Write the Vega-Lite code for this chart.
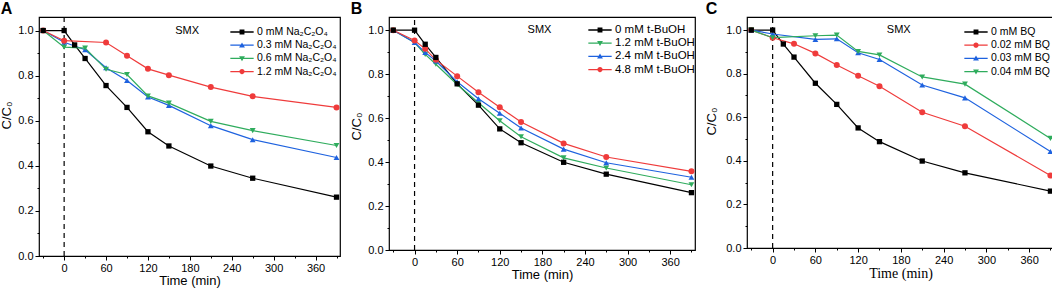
{
  "$schema": "https://vega.github.io/schema/vega-lite/v6.json",
  "background": "white",
  "padding": {"left": 0, "top": 0, "right": 0, "bottom": 0},
  "spacing": 7,
  "config": {
    "view": {"stroke": "black", "strokeWidth": 1.2},
    "axis": {"domain": false, "grid": false, "labelFont": "Liberation Sans", "labelFontSize": 11, "labelColor": "black", "tickColor": "black", "tickWidth": 1, "tickSize": 4, "labelPadding": 2, "titleFont": "Liberation Sans", "titleFontSize": 13, "titleFontWeight": "normal", "titleColor": "black", "labelOverlap": false},
    "title": {"anchor": "start", "frame": "bounds", "font": "Liberation Sans", "fontSize": 16, "fontWeight": "bold", "color": "black", "offset": -1},
    "legend": {"orient": "none", "labelFont": "Liberation Sans", "labelFontSize": 11, "labelColor": "black", "symbolStrokeWidth": 0, "labelOffset": 9, "rowPadding": 1.2, "padding": 0, "symbolSize": 136, "symbolOpacity": 1}
  },
  "datasets": {
    "A": [
      {"s": "0 mM Na₂C₂O₄", "t": -30, "v": 1.0}, {"s": "0 mM Na₂C₂O₄", "t": 0, "v": 1.0}, {"s": "0 mM Na₂C₂O₄", "t": 15, "v": 0.936}, {"s": "0 mM Na₂C₂O₄", "t": 30, "v": 0.876}, {"s": "0 mM Na₂C₂O₄", "t": 60, "v": 0.756}, {"s": "0 mM Na₂C₂O₄", "t": 90, "v": 0.659}, {"s": "0 mM Na₂C₂O₄", "t": 120, "v": 0.551}, {"s": "0 mM Na₂C₂O₄", "t": 150, "v": 0.488}, {"s": "0 mM Na₂C₂O₄", "t": 210, "v": 0.399}, {"s": "0 mM Na₂C₂O₄", "t": 270, "v": 0.345}, {"s": "0 mM Na₂C₂O₄", "t": 390, "v": 0.261},
      {"s": "0.3 mM Na₂C₂O₄", "t": -30, "v": 1.0}, {"s": "0.3 mM Na₂C₂O₄", "t": 0, "v": 0.948}, {"s": "0.3 mM Na₂C₂O₄", "t": 30, "v": 0.915}, {"s": "0.3 mM Na₂C₂O₄", "t": 60, "v": 0.835}, {"s": "0.3 mM Na₂C₂O₄", "t": 90, "v": 0.778}, {"s": "0.3 mM Na₂C₂O₄", "t": 120, "v": 0.705}, {"s": "0.3 mM Na₂C₂O₄", "t": 150, "v": 0.668}, {"s": "0.3 mM Na₂C₂O₄", "t": 210, "v": 0.578}, {"s": "0.3 mM Na₂C₂O₄", "t": 270, "v": 0.516}, {"s": "0.3 mM Na₂C₂O₄", "t": 390, "v": 0.437},
      {"s": "0.6 mM Na₂C₂O₄", "t": -30, "v": 1.0}, {"s": "0.6 mM Na₂C₂O₄", "t": 0, "v": 0.926}, {"s": "0.6 mM Na₂C₂O₄", "t": 30, "v": 0.922}, {"s": "0.6 mM Na₂C₂O₄", "t": 60, "v": 0.828}, {"s": "0.6 mM Na₂C₂O₄", "t": 90, "v": 0.805}, {"s": "0.6 mM Na₂C₂O₄", "t": 120, "v": 0.71}, {"s": "0.6 mM Na₂C₂O₄", "t": 150, "v": 0.678}, {"s": "0.6 mM Na₂C₂O₄", "t": 210, "v": 0.597}, {"s": "0.6 mM Na₂C₂O₄", "t": 270, "v": 0.556}, {"s": "0.6 mM Na₂C₂O₄", "t": 390, "v": 0.49},
      {"s": "1.2 mM Na₂C₂O₄", "t": -30, "v": 1.0}, {"s": "1.2 mM Na₂C₂O₄", "t": 0, "v": 0.955}, {"s": "1.2 mM Na₂C₂O₄", "t": 60, "v": 0.947}, {"s": "1.2 mM Na₂C₂O₄", "t": 90, "v": 0.888}, {"s": "1.2 mM Na₂C₂O₄", "t": 120, "v": 0.83}, {"s": "1.2 mM Na₂C₂O₄", "t": 150, "v": 0.802}, {"s": "1.2 mM Na₂C₂O₄", "t": 210, "v": 0.749}, {"s": "1.2 mM Na₂C₂O₄", "t": 270, "v": 0.708}, {"s": "1.2 mM Na₂C₂O₄", "t": 390, "v": 0.659}
    ],
    "B": [
      {"s": "0 mM t-BuOH", "t": -30, "v": 1.0}, {"s": "0 mM t-BuOH", "t": 0, "v": 1.0}, {"s": "0 mM t-BuOH", "t": 15, "v": 0.936}, {"s": "0 mM t-BuOH", "t": 30, "v": 0.876}, {"s": "0 mM t-BuOH", "t": 60, "v": 0.756}, {"s": "0 mM t-BuOH", "t": 90, "v": 0.659}, {"s": "0 mM t-BuOH", "t": 120, "v": 0.551}, {"s": "0 mM t-BuOH", "t": 150, "v": 0.488}, {"s": "0 mM t-BuOH", "t": 210, "v": 0.399}, {"s": "0 mM t-BuOH", "t": 270, "v": 0.345}, {"s": "0 mM t-BuOH", "t": 390, "v": 0.261},
      {"s": "1.2 mM t-BuOH", "t": -30, "v": 1.0}, {"s": "1.2 mM t-BuOH", "t": 0, "v": 0.944}, {"s": "1.2 mM t-BuOH", "t": 15, "v": 0.89}, {"s": "1.2 mM t-BuOH", "t": 30, "v": 0.845}, {"s": "1.2 mM t-BuOH", "t": 60, "v": 0.753}, {"s": "1.2 mM t-BuOH", "t": 90, "v": 0.67}, {"s": "1.2 mM t-BuOH", "t": 120, "v": 0.588}, {"s": "1.2 mM t-BuOH", "t": 150, "v": 0.515}, {"s": "1.2 mM t-BuOH", "t": 210, "v": 0.419}, {"s": "1.2 mM t-BuOH", "t": 270, "v": 0.373}, {"s": "1.2 mM t-BuOH", "t": 390, "v": 0.297},
      {"s": "2.4 mM t-BuOH", "t": -30, "v": 1.0}, {"s": "2.4 mM t-BuOH", "t": 0, "v": 0.944}, {"s": "2.4 mM t-BuOH", "t": 15, "v": 0.899}, {"s": "2.4 mM t-BuOH", "t": 30, "v": 0.86}, {"s": "2.4 mM t-BuOH", "t": 60, "v": 0.765}, {"s": "2.4 mM t-BuOH", "t": 90, "v": 0.688}, {"s": "2.4 mM t-BuOH", "t": 120, "v": 0.622}, {"s": "2.4 mM t-BuOH", "t": 150, "v": 0.555}, {"s": "2.4 mM t-BuOH", "t": 210, "v": 0.459}, {"s": "2.4 mM t-BuOH", "t": 270, "v": 0.397}, {"s": "2.4 mM t-BuOH", "t": 390, "v": 0.331},
      {"s": "4.8 mM t-BuOH", "t": -30, "v": 1.0}, {"s": "4.8 mM t-BuOH", "t": 0, "v": 0.953}, {"s": "4.8 mM t-BuOH", "t": 15, "v": 0.915}, {"s": "4.8 mM t-BuOH", "t": 30, "v": 0.865}, {"s": "4.8 mM t-BuOH", "t": 60, "v": 0.791}, {"s": "4.8 mM t-BuOH", "t": 90, "v": 0.718}, {"s": "4.8 mM t-BuOH", "t": 120, "v": 0.649}, {"s": "4.8 mM t-BuOH", "t": 150, "v": 0.582}, {"s": "4.8 mM t-BuOH", "t": 210, "v": 0.485}, {"s": "4.8 mM t-BuOH", "t": 270, "v": 0.423}, {"s": "4.8 mM t-BuOH", "t": 390, "v": 0.358}
    ],
    "C": [
      {"s": "0 mM BQ", "t": -30, "v": 1.0}, {"s": "0 mM BQ", "t": 0, "v": 1.0}, {"s": "0 mM BQ", "t": 15, "v": 0.936}, {"s": "0 mM BQ", "t": 30, "v": 0.876}, {"s": "0 mM BQ", "t": 60, "v": 0.756}, {"s": "0 mM BQ", "t": 90, "v": 0.659}, {"s": "0 mM BQ", "t": 120, "v": 0.551}, {"s": "0 mM BQ", "t": 150, "v": 0.488}, {"s": "0 mM BQ", "t": 210, "v": 0.399}, {"s": "0 mM BQ", "t": 270, "v": 0.345}, {"s": "0 mM BQ", "t": 390, "v": 0.261},
      {"s": "0.02 mM BQ", "t": -30, "v": 1.0}, {"s": "0.02 mM BQ", "t": 0, "v": 0.965}, {"s": "0.02 mM BQ", "t": 30, "v": 0.937}, {"s": "0.02 mM BQ", "t": 60, "v": 0.893}, {"s": "0.02 mM BQ", "t": 90, "v": 0.84}, {"s": "0.02 mM BQ", "t": 120, "v": 0.79}, {"s": "0.02 mM BQ", "t": 150, "v": 0.742}, {"s": "0.02 mM BQ", "t": 210, "v": 0.623}, {"s": "0.02 mM BQ", "t": 270, "v": 0.559}, {"s": "0.02 mM BQ", "t": 390, "v": 0.333},
      {"s": "0.03 mM BQ", "t": -30, "v": 1.0}, {"s": "0.03 mM BQ", "t": 0, "v": 0.982}, {"s": "0.03 mM BQ", "t": 60, "v": 0.957}, {"s": "0.03 mM BQ", "t": 90, "v": 0.96}, {"s": "0.03 mM BQ", "t": 120, "v": 0.896}, {"s": "0.03 mM BQ", "t": 150, "v": 0.865}, {"s": "0.03 mM BQ", "t": 210, "v": 0.748}, {"s": "0.03 mM BQ", "t": 270, "v": 0.689}, {"s": "0.03 mM BQ", "t": 390, "v": 0.443},
      {"s": "0.04 mM BQ", "t": -30, "v": 1.0}, {"s": "0.04 mM BQ", "t": 0, "v": 0.965}, {"s": "0.04 mM BQ", "t": 60, "v": 0.974}, {"s": "0.04 mM BQ", "t": 90, "v": 0.977}, {"s": "0.04 mM BQ", "t": 120, "v": 0.902}, {"s": "0.04 mM BQ", "t": 150, "v": 0.886}, {"s": "0.04 mM BQ", "t": 210, "v": 0.785}, {"s": "0.04 mM BQ", "t": 270, "v": 0.752}, {"s": "0.04 mM BQ", "t": 390, "v": 0.503}
    ]
  },
  "resolve": {"scale": {"x": "independent", "y": "independent", "color": "independent", "shape": "independent"}},
  "hconcat": [
    {
      "title": {"text": "A"},
      "width": 301, "height": 239,
      "data": {"name": "A"},
      "encoding": {
        "x": {"field": "t", "type": "quantitative", "scale": {"domain": [-36, 395], "nice": false, "zero": false},
              "axis": {"title": "Time (min)", "values": [-30, 0, 30, 60, 90, 120, 150, 180, 210, 240, 270, 300, 330, 360, 390], "labelExpr": "datum.value % 60 === 0 ? datum.label : ''", "tickDash": {"condition": {"test": "datum.value % 60 === 0", "value": [10, 0]}, "value": [2, 10]}, "titlePadding": 1}},
        "y": {"field": "v", "type": "quantitative", "scale": {"domain": [0, 1.06], "nice": false, "zero": false},
              "axis": {"title": "C/C₀", "titleY": 98, "values": [0, 0.1, 0.2, 0.3, 0.4, 0.5, 0.6, 0.7, 0.8, 0.9, 1.0], "labelExpr": "round(datum.value*10) % 2 === 0 ? format(datum.value, '.1f') : ''", "tickDash": {"condition": {"test": "round(datum.value*10) % 2 === 0", "value": [10, 0]}, "value": [2, 10]}, "titlePadding": 4}}
      },
      "layer": [
        {"data": {"values": [{"t": 0, "v": 0, "v2": 1.06}]}, "mark": {"type": "rule", "strokeDash": [5, 4], "strokeWidth": 1.2, "color": "black"},
         "encoding": {"y2": {"field": "v2"}}},
        {"mark": {"type": "line", "strokeWidth": 1.2},
         "encoding": {"color": {"field": "s", "type": "nominal", "scale": {"domain": ["0 mM Na₂C₂O₄", "0.3 mM Na₂C₂O₄", "0.6 mM Na₂C₂O₄", "1.2 mM Na₂C₂O₄"], "range": ["#000000", "#1e62df", "#2fac5d", "#ef3b3b"]}, "legend": {"title": null, "legendX": 197, "legendY": 9, "labelFontSize": 10.5}}}},
        {"transform": [{"filter": "datum.s === '0.3 mM Na₂C₂O₄'"}], "mark": {"type": "point", "shape": "triangle-up", "filled": true, "size": 34, "opacity": 1},
         "encoding": {"color": {"field": "s", "type": "nominal", "legend": {"title": null, "legendX": 197, "legendY": 9, "labelFontSize": 10.5}}}},
        {"transform": [{"filter": "datum.s === '0.6 mM Na₂C₂O₄'"}], "mark": {"type": "point", "shape": "triangle-down", "filled": true, "size": 34, "opacity": 1},
         "encoding": {"color": {"field": "s", "type": "nominal", "legend": {"title": null, "legendX": 197, "legendY": 9, "labelFontSize": 10.5}}}},
        {"transform": [{"filter": "datum.s === '1.2 mM Na₂C₂O₄'"}], "mark": {"type": "point", "shape": "circle", "filled": true, "size": 36, "opacity": 1},
         "encoding": {"color": {"field": "s", "type": "nominal", "legend": {"title": null, "legendX": 197, "legendY": 9, "labelFontSize": 10.5}}}},
        {"transform": [{"filter": "datum.s === '0 mM Na₂C₂O₄'"}], "mark": {"type": "point", "shape": "square", "filled": true, "size": 28, "opacity": 1},
         "encoding": {"color": {"field": "s", "type": "nominal", "legend": {"title": null, "legendX": 197, "legendY": 9, "labelFontSize": 10.5}}}},
        {"data": {"values": [{"label": "SMX", "t": 176, "v": 1.0}]}, "mark": {"type": "text", "font": "Liberation Sans", "fontSize": 11, "color": "black"},
         "encoding": {"text": {"field": "label"}}},
        {"mark": {"type": "point", "filled": true, "opacity": 0},
         "encoding": {
           "color": {"field": "s", "type": "nominal", "legend": {"title": null, "legendX": 197, "legendY": 9, "labelFontSize": 10.5}},
           "shape": {"field": "s", "type": "nominal", "scale": {"domain": ["0 mM Na₂C₂O₄", "0.3 mM Na₂C₂O₄", "0.6 mM Na₂C₂O₄", "1.2 mM Na₂C₂O₄"], "range": ["M-2,-0.11H2V0.11H-2Z M-0.42,-0.42H0.42V0.42H-0.42Z", "M-2,-0.11H2V0.11H-2Z M0,-0.48L0.5,0.38H-0.5Z", "M-2,-0.11H2V0.11H-2Z M0,0.48L-0.5,-0.38H0.5Z", "M-2,-0.11H2V0.11H-2Z M0.45,0A0.45,0.45 0 1,1 -0.45,0A0.45,0.45 0 1,1 0.45,0Z"]}, "legend": {"title": null, "legendX": 197, "legendY": 9, "labelFontSize": 10.5}}
         }}
      ]
    },
    {
      "title": {"text": "B"},
      "width": 306, "height": 233,
      "data": {"name": "B"},
      "encoding": {
        "x": {"field": "t", "type": "quantitative", "scale": {"domain": [-36, 395], "nice": false, "zero": false},
              "axis": {"title": "Time (min)", "values": [-30, 0, 30, 60, 90, 120, 150, 180, 210, 240, 270, 300, 330, 360, 390], "labelExpr": "datum.value % 60 === 0 ? datum.label : ''", "tickDash": {"condition": {"test": "datum.value % 60 === 0", "value": [10, 0]}, "value": [2, 10]}, "titlePadding": 1}},
        "y": {"field": "v", "type": "quantitative", "scale": {"domain": [0, 1.06], "nice": false, "zero": false},
              "axis": {"title": "C/C₀", "titleY": 109, "values": [0, 0.1, 0.2, 0.3, 0.4, 0.5, 0.6, 0.7, 0.8, 0.9, 1.0], "labelExpr": "round(datum.value*10) % 2 === 0 ? format(datum.value, '.1f') : ''", "tickDash": {"condition": {"test": "round(datum.value*10) % 2 === 0", "value": [10, 0]}, "value": [2, 10]}, "titlePadding": 4}}
      },
      "layer": [
        {"data": {"values": [{"t": 0, "v": 0, "v2": 1.06}]}, "mark": {"type": "rule", "strokeDash": [5, 4], "strokeWidth": 1.2, "color": "black"},
         "encoding": {"y2": {"field": "v2"}}},
        {"mark": {"type": "line", "strokeWidth": 1.2},
         "encoding": {"color": {"field": "s", "type": "nominal", "scale": {"domain": ["0 mM t-BuOH", "1.2 mM t-BuOH", "2.4 mM t-BuOH", "4.8 mM t-BuOH"], "range": ["#000000", "#2fac5d", "#1e62df", "#ef3b3b"]}, "legend": {"title": null, "legendX": 205, "legendY": 7, "labelFontSize": 11.5}}}},
        {"transform": [{"filter": "datum.s === '1.2 mM t-BuOH'"}], "mark": {"type": "point", "shape": "triangle-down", "filled": true, "size": 34, "opacity": 1},
         "encoding": {"color": {"field": "s", "type": "nominal", "legend": {"title": null, "legendX": 205, "legendY": 7, "labelFontSize": 11.5}}}},
        {"transform": [{"filter": "datum.s === '2.4 mM t-BuOH'"}], "mark": {"type": "point", "shape": "triangle-up", "filled": true, "size": 34, "opacity": 1},
         "encoding": {"color": {"field": "s", "type": "nominal", "legend": {"title": null, "legendX": 205, "legendY": 7, "labelFontSize": 11.5}}}},
        {"transform": [{"filter": "datum.s === '4.8 mM t-BuOH'"}], "mark": {"type": "point", "shape": "circle", "filled": true, "size": 36, "opacity": 1},
         "encoding": {"color": {"field": "s", "type": "nominal", "legend": {"title": null, "legendX": 205, "legendY": 7, "labelFontSize": 11.5}}}},
        {"transform": [{"filter": "datum.s === '0 mM t-BuOH'"}], "mark": {"type": "point", "shape": "square", "filled": true, "size": 28, "opacity": 1},
         "encoding": {"color": {"field": "s", "type": "nominal", "legend": {"title": null, "legendX": 205, "legendY": 7, "labelFontSize": 11.5}}}},
        {"data": {"values": [{"label": "SMX", "t": 176, "v": 1.0}]}, "mark": {"type": "text", "font": "Liberation Sans", "fontSize": 11, "color": "black"},
         "encoding": {"text": {"field": "label"}}},
        {"mark": {"type": "point", "filled": true, "opacity": 0},
         "encoding": {
           "color": {"field": "s", "type": "nominal", "legend": {"title": null, "legendX": 205, "legendY": 7, "labelFontSize": 11.5}},
           "shape": {"field": "s", "type": "nominal", "scale": {"domain": ["0 mM t-BuOH", "1.2 mM t-BuOH", "2.4 mM t-BuOH", "4.8 mM t-BuOH"], "range": ["M-2,-0.11H2V0.11H-2Z M-0.42,-0.42H0.42V0.42H-0.42Z", "M-2,-0.11H2V0.11H-2Z M0,0.48L-0.5,-0.38H0.5Z", "M-2,-0.11H2V0.11H-2Z M0,-0.48L0.5,0.38H-0.5Z", "M-2,-0.11H2V0.11H-2Z M0.45,0A0.45,0.45 0 1,1 -0.45,0A0.45,0.45 0 1,1 0.45,0Z"]}, "legend": {"title": null, "legendX": 205, "legendY": 7, "labelFontSize": 11.5}}
         }}
      ]
    },
    {
      "title": {"text": "C"},
      "width": 307, "height": 231,
      "data": {"name": "C"},
      "encoding": {
        "x": {"field": "t", "type": "quantitative", "scale": {"domain": [-36, 395], "nice": false, "zero": false},
              "axis": {"title": "Time (min)", "titleFont": "Liberation Serif", "titleFontSize": 14, "values": [-30, 0, 30, 60, 90, 120, 150, 180, 210, 240, 270, 300, 330, 360, 390], "labelExpr": "datum.value % 60 === 0 ? datum.label : ''", "tickDash": {"condition": {"test": "datum.value % 60 === 0", "value": [10, 0]}, "value": [2, 10]}, "titlePadding": 1}},
        "y": {"field": "v", "type": "quantitative", "scale": {"domain": [0, 1.06], "nice": false, "zero": false},
              "axis": {"title": "C/C₀", "titleY": 104, "values": [0, 0.1, 0.2, 0.3, 0.4, 0.5, 0.6, 0.7, 0.8, 0.9, 1.0], "labelExpr": "round(datum.value*10) % 2 === 0 ? format(datum.value, '.1f') : ''", "tickDash": {"condition": {"test": "round(datum.value*10) % 2 === 0", "value": [10, 0]}, "value": [2, 10]}, "titlePadding": 7}}
      },
      "layer": [
        {"data": {"values": [{"t": 0, "v": 0, "v2": 1.06}]}, "mark": {"type": "rule", "strokeDash": [5, 4], "strokeWidth": 1.2, "color": "black"},
         "encoding": {"y2": {"field": "v2"}}},
        {"mark": {"type": "line", "strokeWidth": 1.2},
         "encoding": {"color": {"field": "s", "type": "nominal", "scale": {"domain": ["0 mM BQ", "0.02 mM BQ", "0.03 mM BQ", "0.04 mM BQ"], "range": ["#000000", "#ef3b3b", "#1e62df", "#2fac5d"]}, "legend": {"title": null, "legendX": 223, "legendY": 9, "labelFontSize": 10.5}}}},
        {"transform": [{"filter": "datum.s === '0.02 mM BQ'"}], "mark": {"type": "point", "shape": "circle", "filled": true, "size": 36, "opacity": 1},
         "encoding": {"color": {"field": "s", "type": "nominal", "legend": {"title": null, "legendX": 223, "legendY": 9, "labelFontSize": 10.5}}}},
        {"transform": [{"filter": "datum.s === '0.03 mM BQ'"}], "mark": {"type": "point", "shape": "triangle-up", "filled": true, "size": 34, "opacity": 1},
         "encoding": {"color": {"field": "s", "type": "nominal", "legend": {"title": null, "legendX": 223, "legendY": 9, "labelFontSize": 10.5}}}},
        {"transform": [{"filter": "datum.s === '0.04 mM BQ'"}], "mark": {"type": "point", "shape": "triangle-down", "filled": true, "size": 34, "opacity": 1},
         "encoding": {"color": {"field": "s", "type": "nominal", "legend": {"title": null, "legendX": 223, "legendY": 9, "labelFontSize": 10.5}}}},
        {"transform": [{"filter": "datum.s === '0 mM BQ'"}], "mark": {"type": "point", "shape": "square", "filled": true, "size": 28, "opacity": 1},
         "encoding": {"color": {"field": "s", "type": "nominal", "legend": {"title": null, "legendX": 223, "legendY": 9, "labelFontSize": 10.5}}}},
        {"data": {"values": [{"label": "SMX", "t": 177, "v": 1.0}]}, "mark": {"type": "text", "font": "Liberation Sans", "fontSize": 11, "color": "black"},
         "encoding": {"text": {"field": "label"}}},
        {"mark": {"type": "point", "filled": true, "opacity": 0},
         "encoding": {
           "color": {"field": "s", "type": "nominal", "legend": {"title": null, "legendX": 223, "legendY": 9, "labelFontSize": 10.5}},
           "shape": {"field": "s", "type": "nominal", "scale": {"domain": ["0 mM BQ", "0.02 mM BQ", "0.03 mM BQ", "0.04 mM BQ"], "range": ["M-2,-0.11H2V0.11H-2Z M-0.42,-0.42H0.42V0.42H-0.42Z", "M-2,-0.11H2V0.11H-2Z M0.45,0A0.45,0.45 0 1,1 -0.45,0A0.45,0.45 0 1,1 0.45,0Z", "M-2,-0.11H2V0.11H-2Z M0,-0.48L0.5,0.38H-0.5Z", "M-2,-0.11H2V0.11H-2Z M0,0.48L-0.5,-0.38H0.5Z"]}, "legend": {"title": null, "legendX": 223, "legendY": 9, "labelFontSize": 10.5}}
         }}
      ]
    }
  ]
}
